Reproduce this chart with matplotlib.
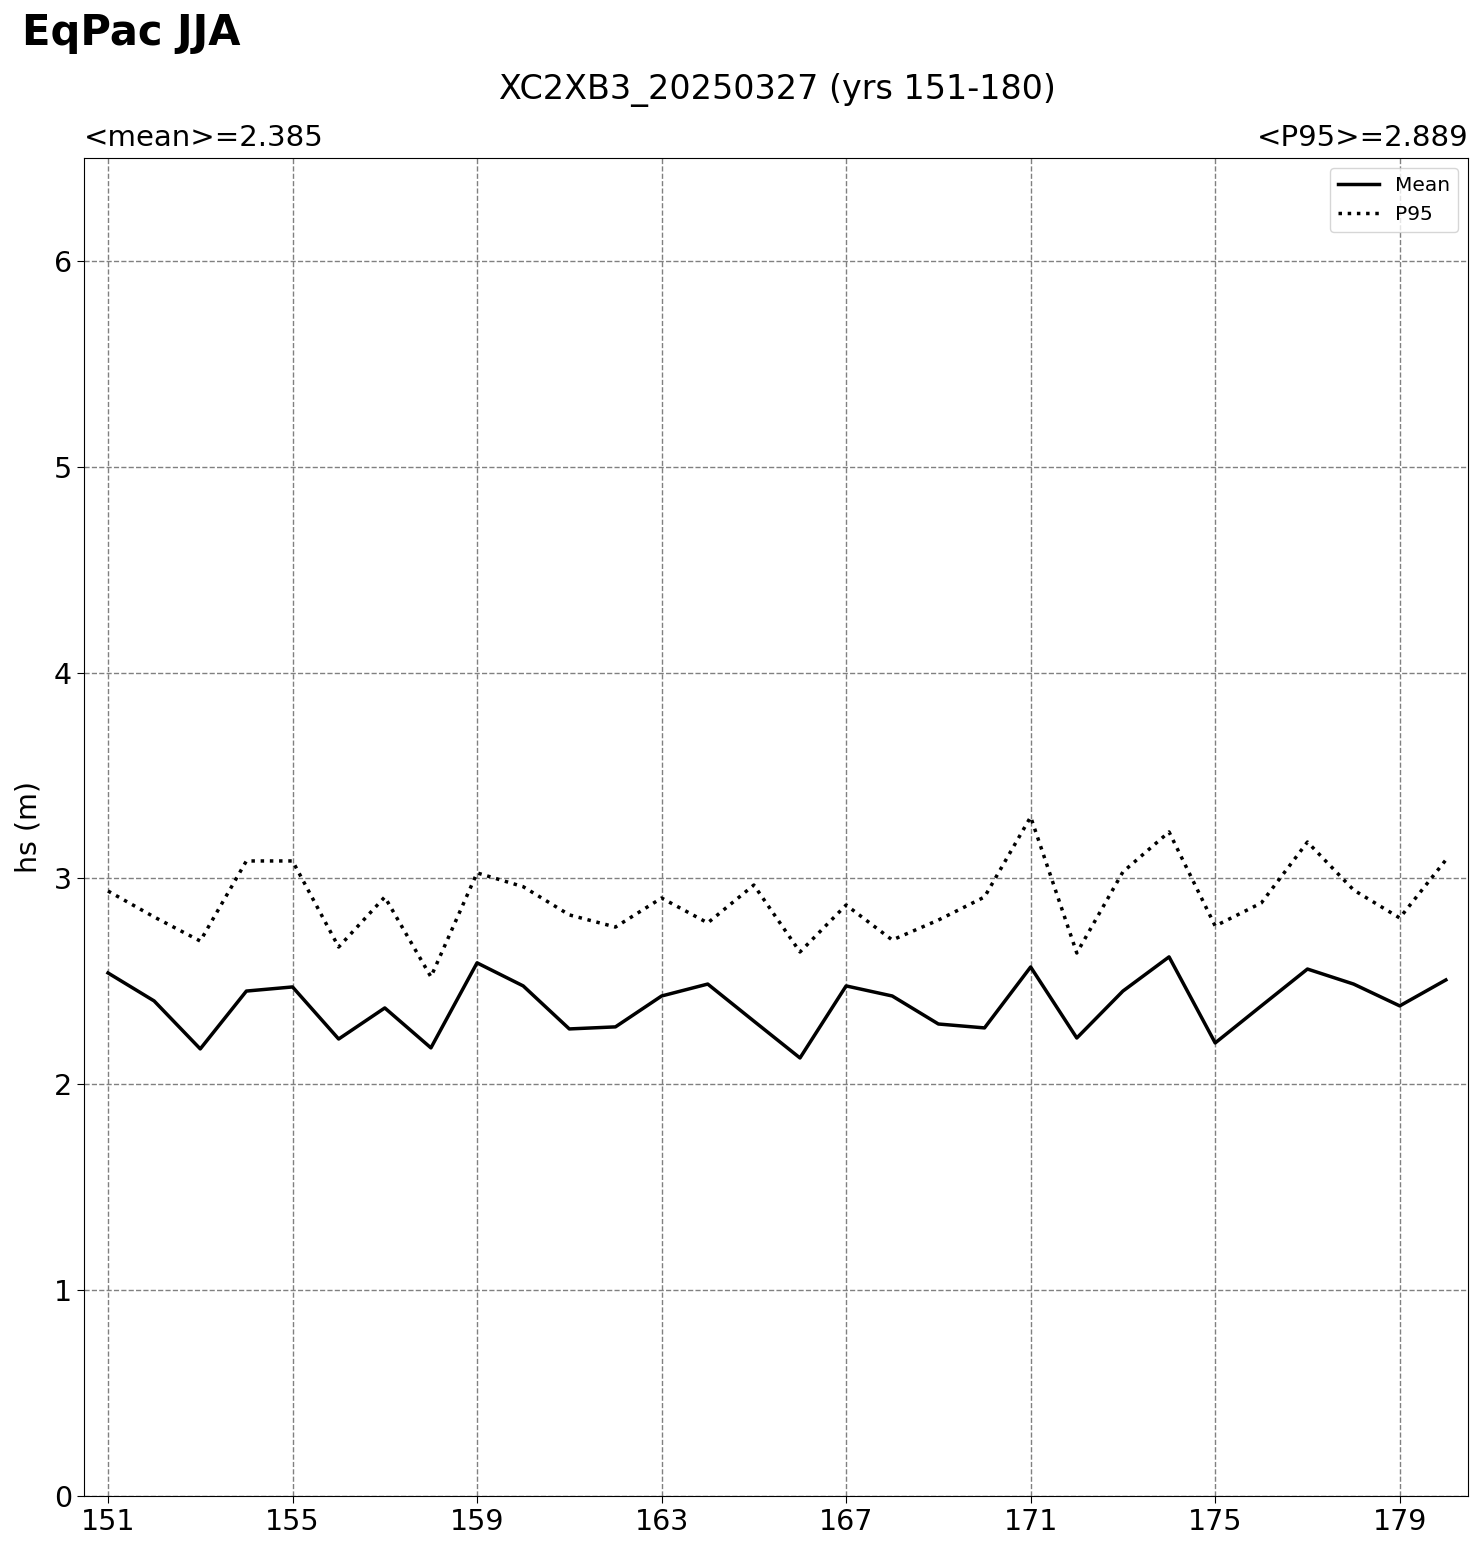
import numpy as np
import matplotlib
matplotlib.use("Agg")
import matplotlib.pyplot as plt

# Anos e séries
years = np.arange(151, 181)
hs_mean = [2.541, 2.405, 2.172, 2.453, 2.473, 2.220, 2.371, 2.177, 2.590, 2.478,
           2.269, 2.279, 2.429, 2.487, 2.307, 2.128, 2.478, 2.429, 2.293, 2.274,
           2.570, 2.225, 2.453, 2.619, 2.201, 2.381, 2.560, 2.487, 2.381, 2.507]
hs_p95 = [2.939, 2.813, 2.696, 3.085, 3.085, 2.667, 2.910, 2.522, 3.027, 2.960,
          2.823, 2.764, 2.905, 2.784, 2.968, 2.643, 2.871, 2.701, 2.798, 2.910,
          3.299, 2.638, 3.032, 3.226, 2.769, 2.881, 3.177, 2.944, 2.808, 3.090]
xticks = np.arange(151, 181, 4)

W, H = 1484, 1553
fig = plt.figure(figsize=(W / 100, H / 100), dpi=100)
ax = fig.add_axes([84 / W, 1 - 1496 / H, (1468 - 84) / W, (1496 - 158) / H])

ax.plot(years, hs_mean, color='black', lw=2.5, label='Mean')
ax.plot(years, hs_p95, color='black', lw=2.5, ls=':', label='P95')

ax.set_xlim(150.48, 180.48)
ax.set_ylim(0, 6.5)
ax.set_xticks(xticks)
ax.set_yticks(np.arange(0, 7, 1))
ax.tick_params(labelsize=20.5, length=5)
ax.grid(True, color='gray', ls='--', lw=1.0)
ax.set_ylabel("hs (m)", fontsize=20.5, labelpad=8)

ax.set_title("<mean>=2.385", loc='left', fontsize=21, pad=9)
ax.set_title("<P95>=2.889", loc='right', fontsize=21, pad=9)
fig.text(777 / W, 1 - 90 / H, "XC2XB3_20250327 (yrs 151-180)", ha='center', va='center', fontsize=24)
fig.text(22 / W, 1 - 33 / H, "EqPac JJA", ha='left', va='center', fontsize=30, fontweight='bold')

ax.legend(loc='upper right', fontsize=14.5)

fig.savefig("out.png", dpi=100)
